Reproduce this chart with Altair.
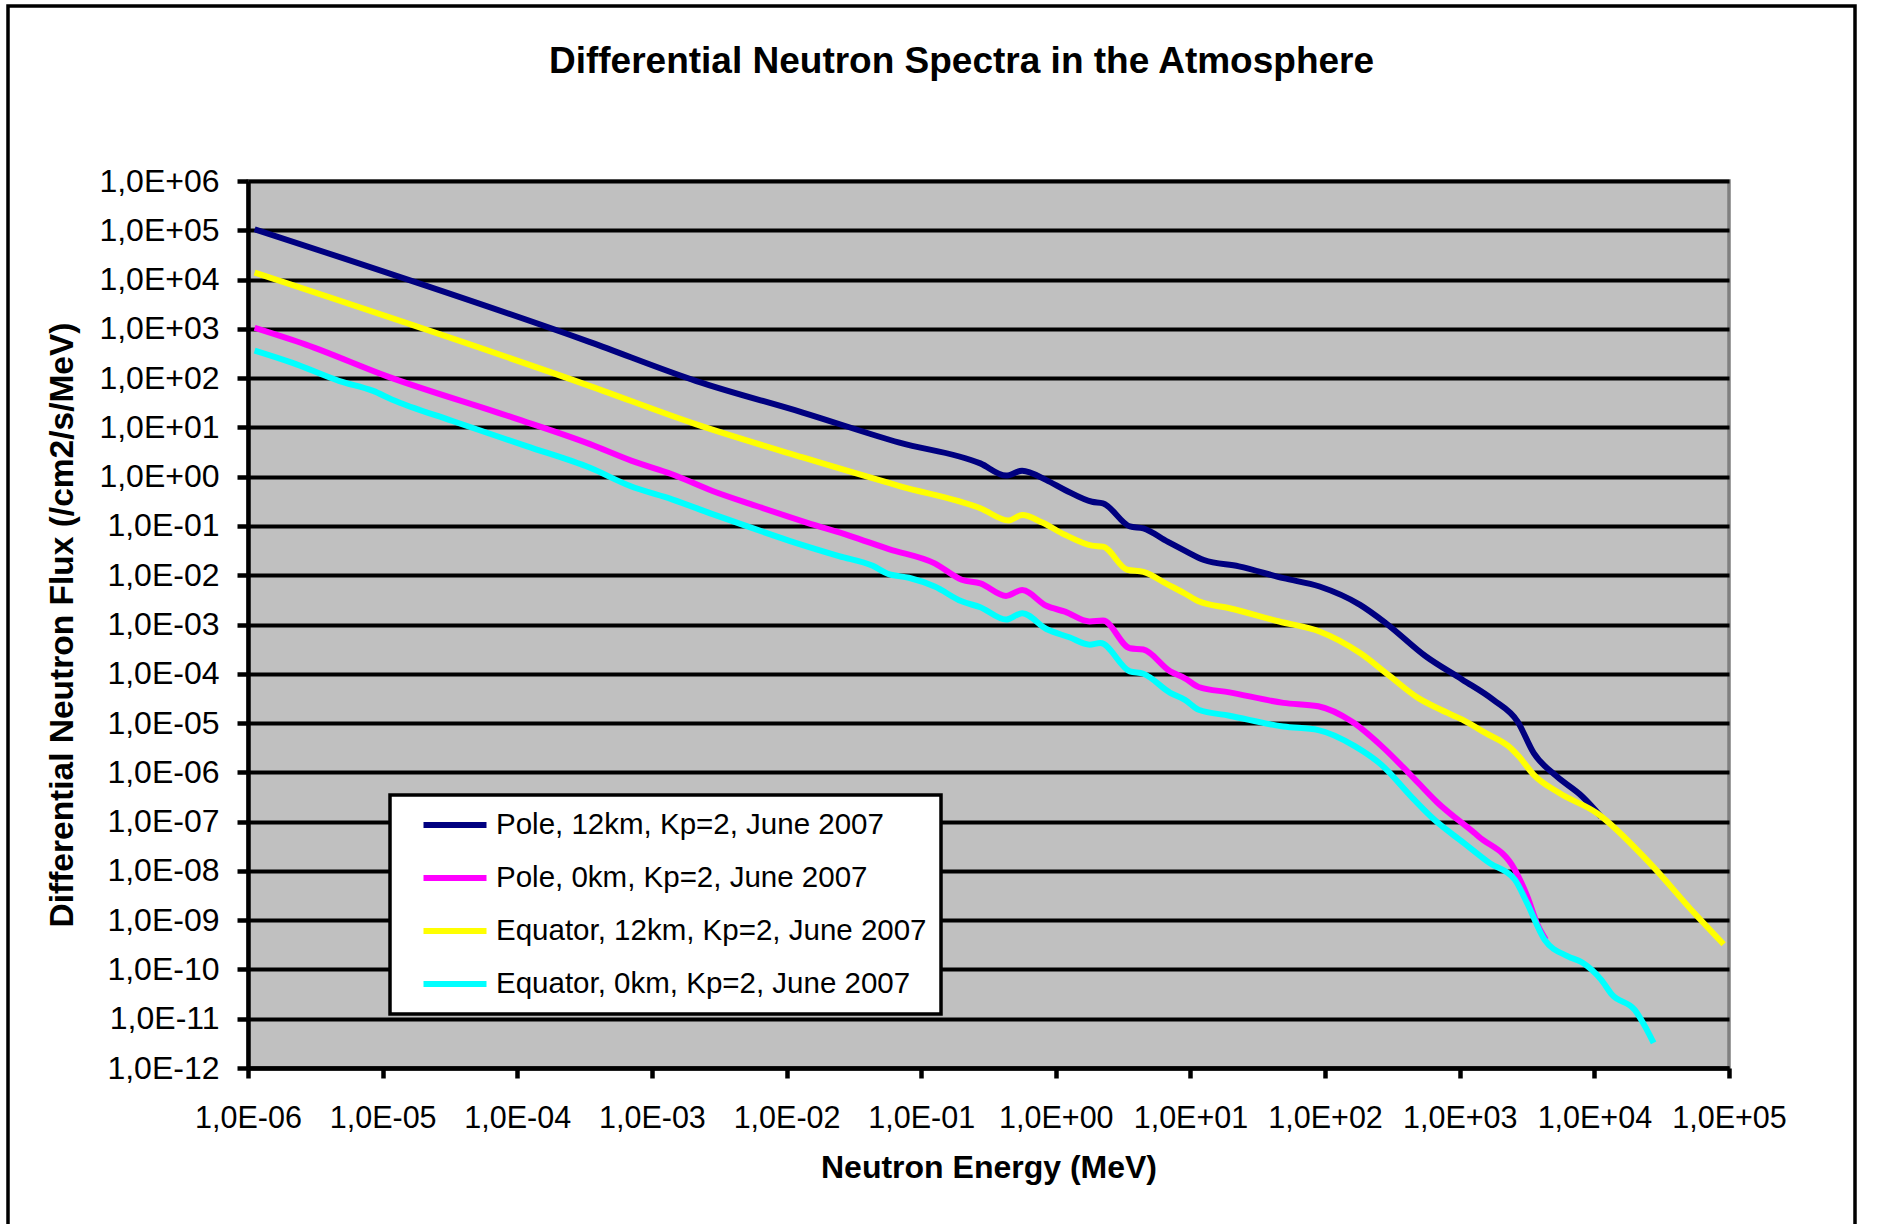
import altair as alt
import pandas as pd

# ---- data (energy in MeV, flux in /cm2/s/MeV) ----
series_names = [
    "Pole, 12km, Kp=2, June 2007",
    "Pole, 0km, Kp=2, June 2007",
    "Equator, 12km, Kp=2, June 2007",
    "Equator, 0km, Kp=2, June 2007",
]
series_colors = ["#000080", "#FF00FF", "#FFFF00", "#00FFFF"]

pole12_E = [1.12e-6, 3.47e-4, 2.14e-3, 1.32e-2, 6.9e-2, 0.275, 0.427, 0.562, 0.851, 1.17,
            1.86, 2.24, 3.55, 4.47, 6.76, 8.91, 12.6, 22.9, 49, 91,
            182, 282, 562, 1047, 1778, 2692, 3548, 5248, 8128, 11220]
pole12_F = [1.05e5, 537, 87, 20, 4.9, 1.86, 1.05, 1.32, 0.851, 0.537,
            0.309, 0.288, 0.0977, 0.0891, 0.0479, 0.0324, 0.0204, 0.0151, 8.7e-3, 5.9e-3,
            2.5e-3, 1.07e-3, 2.24e-4, 7.6e-5, 2.95e-5, 1.07e-5, 2.45e-6, 8.3e-7, 3.24e-7, 1.26e-7]

pole0_E = [1.12e-6, 2.69e-6, 1.07e-5, 9.3e-5, 3.47e-4, 7.1e-4, 1.41e-3, 2.82e-3, 5.9e-3, 1.41e-2,
           2.95e-2, 5.75e-2, 0.126, 0.2, 0.275, 0.427, 0.562, 0.851, 1.17, 1.78,
           2.24, 3.55, 4.47, 7.08, 9.1, 11.5, 19.5, 49, 89, 158,
           263, 417, 676, 1380, 2570, 3160, 3800, 4365]
pole0_F = [1047, 479, 110, 15.8, 4.57, 2.09, 1.12, 0.513, 0.257, 0.117,
           0.063, 0.0339, 0.0174, 8.1e-3, 6.8e-3, 3.8e-3, 5.0e-3, 2.4e-3, 1.82e-3, 1.15e-3,
           1.2e-3, 3.3e-4, 3.1e-4, 1.12e-4, 8.1e-5, 5.4e-5, 4.2e-5, 2.57e-5, 2.19e-5, 1.07e-5,
           3.4e-6, 9.8e-7, 2.5e-7, 5.0e-8, 1.05e-8, 3.16e-9, 7.9e-10, 4.0e-10]

eq12_E = [1.12e-6, 3.47e-4, 2.14e-3, 1.32e-2, 6.9e-2, 0.275, 0.447, 0.562, 0.794, 1.17,
          1.86, 2.24, 3.39, 4.47, 6.76, 8.91, 11.5, 19.5, 45.7, 91,
          182, 295, 490, 724, 1047, 1549, 2399, 2754, 3548, 5495,
          10470, 25700, 54950, 91200]
eq12_F = [1.38e4, 69, 11.5, 2.45, 0.646, 0.229, 0.129, 0.166, 0.117, 0.0661,
          0.0398, 0.038, 0.0129, 0.0117, 6.5e-3, 4.4e-3, 2.95e-3, 2.14e-3, 1.15e-3, 7.2e-4,
          2.63e-4, 9.5e-5, 3.24e-5, 1.86e-5, 1.17e-5, 6.3e-6, 3.09e-6, 2.09e-6, 8.9e-7, 3.8e-7,
          1.48e-7, 1.45e-8, 1.41e-9, 3.24e-10]

eq0_E = [1.12e-6, 2.14e-6, 4.79e-6, 8.5e-6, 1.17e-5, 3.3e-5, 1.17e-4, 3.47e-4, 6.9e-4, 1.41e-3,
         2.82e-3, 5.0e-3, 1.05e-2, 2.45e-2, 4.37e-2, 5.75e-2, 8.1e-2, 0.126, 0.2, 0.275,
         0.427, 0.562, 0.851, 1.26, 1.78, 2.14, 3.55, 4.47, 7.08, 9.1,
         11.5, 19.5, 49, 89, 166, 263, 447, 646, 1070, 1660,
         2570, 3160, 4270, 6310, 8130, 11220, 13490, 19950, 27540]
eq0_F = [363, 204, 87, 55, 37, 13.5, 4.17, 1.51, 0.646, 0.347,
         0.174, 0.1, 0.05, 0.0245, 0.0155, 0.0105, 8.9e-3, 5.9e-3, 2.95e-3, 2.24e-3,
         1.26e-3, 1.7e-3, 8.1e-4, 5.5e-4, 3.9e-4, 4.2e-4, 1.12e-4, 1.0e-4, 4.1e-5, 2.95e-5,
         1.86e-5, 1.41e-5, 8.5e-6, 7.2e-6, 3.4e-6, 1.41e-6, 3.0e-7, 1.1e-7, 3.7e-8, 1.45e-8,
         6.6e-9, 2.24e-9, 4.0e-10, 1.86e-10, 1.38e-10, 6.2e-11, 3.1e-11, 1.51e-11, 3.24e-12]

x_ticks = [1e-6, 1e-5, 1e-4, 1e-3, 1e-2, 1e-1, 1e0, 1e1, 1e2, 1e3, 1e4, 1e5]
y_ticks = [1e-12, 1e-11, 1e-10, 1e-9, 1e-8, 1e-7, 1e-6, 1e-5, 1e-4, 1e-3, 1e-2, 1e-1,
           1e0, 1e1, 1e2, 1e3, 1e4, 1e5, 1e6]

rows = []
for name, E, F in [(series_names[0], pole12_E, pole12_F),
                   (series_names[1], pole0_E, pole0_F),
                   (series_names[2], eq12_E, eq12_F),
                   (series_names[3], eq0_E, eq0_F)]:
    for i, (e, f) in enumerate(zip(E, F)):
        rows.append({"series": name, "E": e, "F": f, "i": i})
df = pd.DataFrame(rows)

FONT = "Liberation Sans"
W, H = 1481, 887

label_expr = ("'1,0E' + (datum.value >= 1 ? '+' : '-') + "
              "(abs(round(log(datum.value)/LN10)) < 10 ? '0' : '') + "
              "abs(round(log(datum.value)/LN10))")

lines = alt.Chart(df).mark_line(strokeWidth=6, interpolate="monotone", clip=True).encode(
    x=alt.X("E:Q",
            scale=alt.Scale(type="log", domain=[1e-6, 1e5], nice=False),
            axis=alt.Axis(values=x_ticks, labelExpr=label_expr, grid=False,
                          tickSize=10, labelPadding=25, labelFlush=False,
                          labelFontSize=30.5, titleFontSize=32,
                          title="Neutron Energy (MeV)",
                          titleX=W / 2, titleY=99, titleBaseline="middle")),
    y=alt.Y("F:Q",
            scale=alt.Scale(type="log", domain=[1e-12, 1e6], nice=False),
            axis=alt.Axis(values=y_ticks, labelExpr=label_expr, grid=True,
                          tickSize=11, labelPadding=18,
                          labelFontSize=32, titleFontSize=33.5,
                          title="Differential Neutron Flux (/cm2/s/MeV)",
                          titleX=-186, titleY=H / 2, titleAngle=270,
                          titleBaseline="middle", titleAlign="center")),
    color=alt.Color("series:N",
                    scale=alt.Scale(domain=series_names, range=series_colors),
                    legend=alt.Legend(orient="none", legendX=142, legendY=614, title=None,
                                      symbolType="stroke", symbolSize=3969,
                                      symbolStrokeWidth=6, symbolOffset=16.5,
                                      labelOffset=6.5, rowPadding=21, padding=14,
                                      clipHeight=32, labelLimit=0,
                                      labelFont=FONT, labelFontSize=29.5, labelColor="black",
                                      fillColor="white", strokeColor="black")),
    detail="series:N",
    order="i:Q",
)

frame = alt.Chart(pd.DataFrame({"a": [0]})).mark_rect(
    fill="transparent", stroke="black", strokeWidth=3.5
).encode(
    x=alt.value(-240), x2=alt.value(1607), y=alt.value(-175), y2=alt.value(1060)
)

chart = alt.layer(frame, lines).properties(
    width=W, height=H,
    title=alt.TitleParams("Differential Neutron Spectra in the Atmosphere",
                          font=FONT, fontSize=37, fontWeight="bold", color="black",
                          anchor="middle", frame="group", dx=-27, offset=-95,
                          baseline="middle"),
    autosize=alt.AutoSizeParams(type="none"),
    padding={"left": 248, "top": 181, "right": 154, "bottom": 156},
    background="white",
).configure_view(
    fill="#C0C0C0", stroke="#808080", strokeWidth=3.5
).configure_axis(
    domainColor="black", domainWidth=4.5, tickColor="black", tickWidth=4.5,
    gridColor="black", gridWidth=4, gridOpacity=1,
    labelFont=FONT, labelColor="black",
    titleFont=FONT, titleFontWeight="bold", titleColor="black",
).configure_legend(
    strokeWidth=3.5
)

chart.save("out.html", embed_options={"renderer": "svg", "actions": False})
